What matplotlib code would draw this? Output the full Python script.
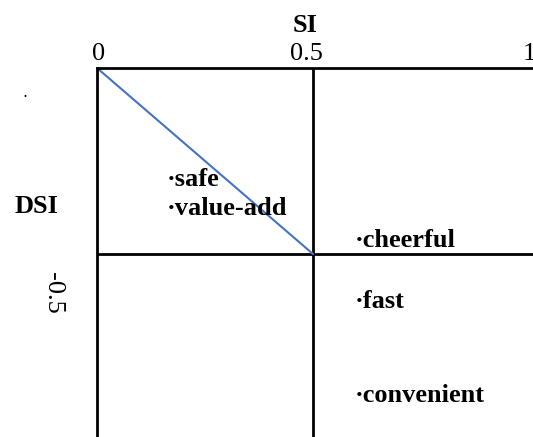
import matplotlib
matplotlib.use('Agg')
import matplotlib.pyplot as plt
from matplotlib.transforms import ScaledTranslation

plt.rcParams['font.family'] = ['Liberation Serif', 'DejaVu Serif']
plt.rcParams['axes.unicode_minus'] = False

# quadrant chart data
x_ticks = [0, 0.5, 1]
x_tick_labels = ['0', '0.5', '1']
y_split = -0.5
y_tick_label = '-0.5'

items = ['safe', 'value-add', 'cheerful', 'fast', 'convenient']
item_x = [0.162, 0.162, 0.597, 0.597, 0.597]
item_y = [-0.317, -0.395, -0.481, -0.645, -0.898]

diag_x = [0, 0.5]
diag_y = [0, -0.5]

fig = plt.figure(figsize=(5.33, 4.37), dpi=100)
ax = fig.add_axes([97 / 533, 0, 436 / 533, 369 / 437])
ax.set_xlim(0, 436 / 432)
ax.set_ylim(-369 / 372, 0)

for side in ['right', 'bottom']:
    ax.spines[side].set_visible(False)
for side in ['top', 'left']:
    ax.spines[side].set_linewidth(2)
    ax.spines[side].set_color('black')

# quadrant split lines
ax.axvline(0.5, color='black', lw=2)
ax.axhline(y_split, color='black', lw=2)

# diagonal
ax.plot(diag_x, diag_y, color='#4472C4', lw=1.5)

ax.xaxis.tick_top()
ax.set_xticks(x_ticks)
ax.set_xticklabels(x_tick_labels, fontsize=19)
ax.tick_params(axis='x', length=0, pad=2)
ax.set_yticks([])

# nudge the labels a bit like in the original
labels = ax.get_xticklabels()
labels[0].set_transform(labels[0].get_transform() + ScaledTranslation(0.02, 0, fig.dpi_scale_trans))
labels[1].set_transform(labels[1].get_transform() + ScaledTranslation(-0.07, 0, fig.dpi_scale_trans))

ax.text(-0.102, -0.605, y_tick_label, rotation=270, fontsize=19,
        ha='center', va='center', clip_on=False)
# stray mark left of the axis
ax.text(-0.166, -0.07, '.', fontsize=9, fontweight='bold',
        ha='center', va='center', clip_on=False)

ax.text(0.482, (68 - 32) / 372, 'SI', fontsize=19, fontweight='bold',
        ha='center', va='baseline', clip_on=False)
ax.text(-0.139, -(213 - 68) / 372, 'DSI', fontsize=19, fontweight='bold',
        ha='center', va='baseline', clip_on=False)

for name, x, y in zip(items, item_x, item_y):
    ax.text(x, y, '\u00b7' + name, fontsize=19, fontweight='bold',
            ha='left', va='baseline')

fig.savefig('out.png', dpi=100)
